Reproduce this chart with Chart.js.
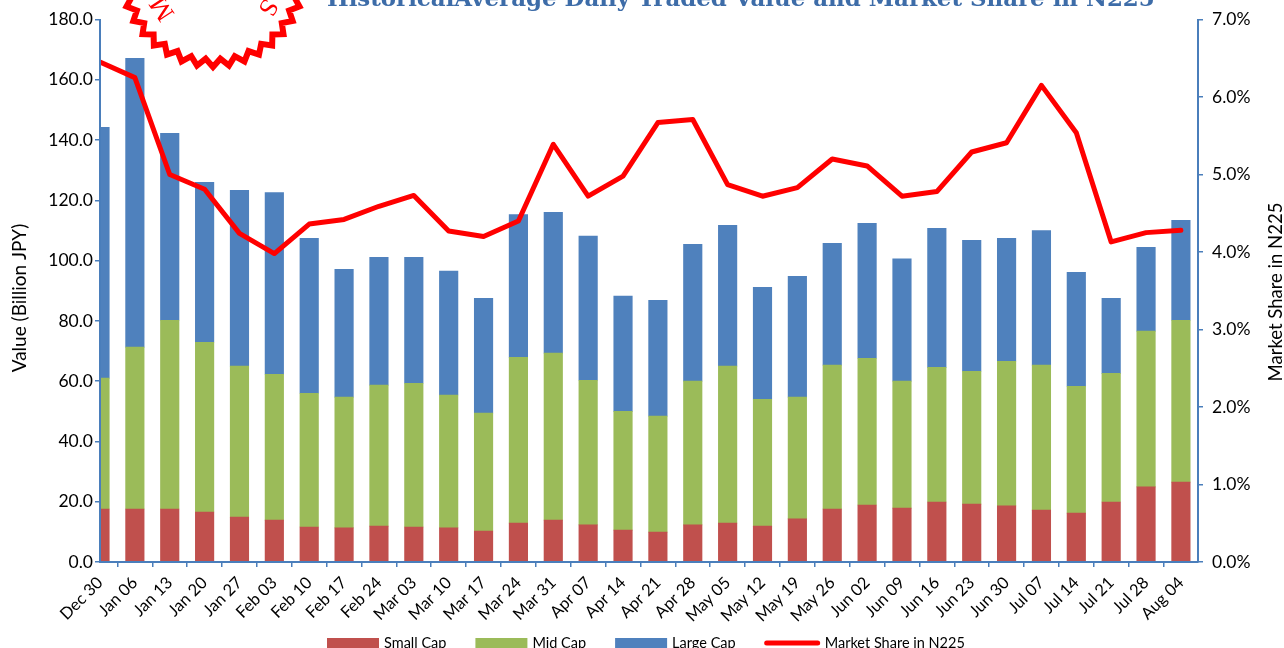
<!DOCTYPE html>
<html><head><meta charset="utf-8">
<script src="https://cdn.jsdelivr.net/npm/chart.js@4.4.0/dist/chart.umd.min.js"></script>
<style>html,body{margin:0;padding:0;background:#fff;overflow:hidden}canvas{display:block}</style>
</head><body>
<canvas id="c" width="1284" height="648"></canvas>
<script>
const categories = ['Dec 30','Jan 06','Jan 13','Jan 20','Jan 27','Feb 03','Feb 10','Feb 17','Feb 24','Mar 03','Mar 10','Mar 17','Mar 24','Mar 31','Apr 07','Apr 14','Apr 21','Apr 28','May 05','May 12','May 19','May 26','Jun 02','Jun 09','Jun 16','Jun 23','Jun 30','Jul 07','Jul 14','Jul 21','Jul 28','Aug 04'];
const smallCap = [17.6,17.6,17.6,16.6,14.9,13.9,11.6,11.3,11.9,11.6,11.3,10.3,12.9,13.9,12.3,10.6,9.9,12.3,12.9,11.9,14.3,17.6,18.9,17.9,19.9,19.2,18.6,17.2,16.2,19.9,24.9,26.5];
const midCap = [43.4,53.7,62.6,56.3,50.1,48.4,44.4,43.4,46.8,47.7,44.1,39.1,55.0,55.4,48.0,39.4,38.5,47.7,52.1,42.1,40.4,47.7,48.7,42.1,44.7,44.1,48.0,48.1,42.1,42.7,51.7,53.7];
const largeCap = [83.2,95.8,62.0,53.1,58.3,60.3,51.4,42.4,42.4,41.8,41.1,38.1,47.4,46.7,47.8,38.2,38.4,45.4,46.7,37.1,40.1,40.4,44.8,40.6,46.1,43.4,40.8,44.7,37.8,24.9,27.8,33.2];
const marketShare = [6.45,6.25,5.00,4.81,4.24,3.98,4.36,4.42,4.59,4.73,4.27,4.20,4.40,5.39,4.72,4.98,5.67,5.71,4.87,4.72,4.83,5.20,5.11,4.72,4.78,5.29,5.41,6.15,5.54,4.13,4.25,4.28];
const leftTicks = {min:0, max:180, step:20};
const rightTicks = {min:0, max:7, step:1};
const seriesNames = ['Small Cap','Mid Cap','Large Cap','Market Share in N225'];
const axisTitles = ['Value (Billion JPY)','Market Share in N225'];
const titleText = 'HistoricalAverage Daily Traded Value and Market Share in N225';

const AXIS = '#4A7EBB';
const FONT = 'Lato, "Open Sans", sans-serif';
const COLORS = ['#C0504D','#9BBB59','#4F81BD','#FF0000'];

const pts = arr => arr.map((v,i)=>({x:i,y:v}));

const decor = {
  id:'decor',
  afterDraw(chart){
    const ctx = chart.ctx;
    ctx.save();
    // title (cropped at top)
    ctx.fillStyle = '#3D6CA8';
    let fs = 24;
    ctx.font = 'bold ' + fs + 'px "DejaVu Serif", serif';
    const w = ctx.measureText(titleText).width;
    fs = fs * 828 / w;
    ctx.font = 'bold ' + fs.toFixed(2) + 'px "DejaVu Serif", serif';
    ctx.textAlign = 'left'; ctx.textBaseline = 'alphabetic';
    ctx.fillText(titleText, 327, 6);

    // stamp
    const cx = 213, cy = -25, ro = 92, ri = 84, n = 36;
    ctx.beginPath();
    for (let k = 0; k < n*2; k++){
      const a = k * Math.PI / n;
      const r = k % 2 === 0 ? ro : ri;
      const px = cx + r*Math.cos(a), py = cy + r*Math.sin(a);
      if (k===0) ctx.moveTo(px,py); else ctx.lineTo(px,py);
    }
    ctx.closePath();
    ctx.fillStyle = '#fff'; ctx.fill();
    ctx.strokeStyle = '#FF0000'; ctx.lineWidth = 6; ctx.lineJoin = 'miter'; ctx.stroke();
    ctx.fillStyle = '#FF0000';
    ctx.font = '26px "Liberation Serif", serif';
    ctx.textAlign = 'center'; ctx.textBaseline = 'middle';
    [['M',146.6,60],['S',30.6,63]].forEach(([ch,deg,d])=>{
      const a = deg*Math.PI/180;
      ctx.save();
      ctx.translate(cx + d*Math.cos(a), cy + d*Math.sin(a));
      ctx.rotate(a + Math.PI/2);
      ctx.fillText(ch,0,0);
      ctx.restore();
    });

    // axis titles
    ctx.fillStyle = '#000';
    ctx.textAlign = 'center'; ctx.textBaseline = 'middle';
    [[20, 298, 19, axisTitles[0]], [1276, 292, 18.5, axisTitles[1]]].forEach(([tx,ty,sz,t])=>{
      ctx.save();
      ctx.translate(tx, ty);
      ctx.rotate(-Math.PI/2);
      ctx.font = sz + 'px ' + FONT;
      ctx.fillText(t,0,0);
      ctx.restore();
    });

    // legend
    ctx.font = '14.5px ' + FONT;
    ctx.textBaseline = 'middle'; ctx.textAlign = 'left';
    let x = 327; const ly = 643;
    seriesNames.forEach((name,i)=>{
      if (i < 3){
        ctx.fillStyle = COLORS[i];
        ctx.fillRect(x, ly-5, 52, 10);
        x += 52 + 5;
      } else {
        ctx.strokeStyle = COLORS[3]; ctx.lineWidth = 5; ctx.lineCap = 'round';
        ctx.beginPath(); ctx.moveTo(x+2, ly); ctx.lineTo(x+53, ly); ctx.stroke();
        x += 55 + 5;
      }
      ctx.fillStyle = '#000';
      ctx.fillText(name, x, ly);
      x += ctx.measureText(name).width + 29;
    });
    ctx.restore();
  }
};

new Chart(document.getElementById('c'), {
  type:'bar',
  data:{datasets:[
    {label:seriesNames[0], data:pts(smallCap), backgroundColor:COLORS[0], order:2},
    {label:seriesNames[1], data:pts(midCap), backgroundColor:COLORS[1], order:2},
    {label:seriesNames[2], data:pts(largeCap), backgroundColor:COLORS[2], order:2},
    {type:'line', label:seriesNames[3], data:pts(marketShare), yAxisID:'y1', borderColor:COLORS[3], backgroundColor:COLORS[3], borderWidth:5, pointRadius:0, tension:0, order:0, borderJoinStyle:'round', borderCapStyle:'round', clip:{left:0,right:10,top:10,bottom:10}}
  ]},
  options:{
    responsive:false, animation:false,
    layout:{padding:{top:19,left:0,right:0,bottom:0}},
    plugins:{legend:{display:false}, tooltip:{enabled:false}, title:{display:false}},
    datasets:{bar:{barThickness:18.5}},
    scales:{
      x:{type:'linear', min:0, max:31.49, stacked:true, offset:false,
        afterBuildTicks:s=>{ s.ticks = categories.map((_,i)=>({value:i})); },
        afterFit:s=>{ s.height = 86; },
        grid:{drawOnChartArea:false, drawTicks:true, tickLength:5, color:AXIS, lineWidth:1.5},
        border:{color:AXIS, width:2, z:1},
        ticks:{autoSkip:false, maxRotation:45, minRotation:45, padding:6, color:'#000', font:{family:FONT,size:16.5}, callback:v=>categories[v]}
      },
      y:{position:'left', stacked:true, min:leftTicks.min, max:leftTicks.max,
        afterFit:s=>{ s.width = 100; },
        grid:{drawOnChartArea:false, drawTicks:true, tickLength:5, color:AXIS, lineWidth:1.5},
        border:{color:AXIS, width:2, z:1},
        ticks:{stepSize:leftTicks.step, padding:2, color:'#000', font:{family:FONT,size:17.5}, callback:v=>v.toFixed(1)}
      },
      y1:{position:'right', min:rightTicks.min, max:rightTicks.max,
        afterFit:s=>{ s.width = 86; },
        grid:{drawOnChartArea:false, drawTicks:true, tickLength:5, color:AXIS, lineWidth:1.5},
        border:{color:AXIS, width:2, z:1},
        ticks:{stepSize:rightTicks.step, padding:9, color:'#000', font:{family:FONT,size:17.5}, callback:v=>v.toFixed(1)+'%'}
      }
    }
  },
  plugins:[decor]
});
</script>
</body></html>
